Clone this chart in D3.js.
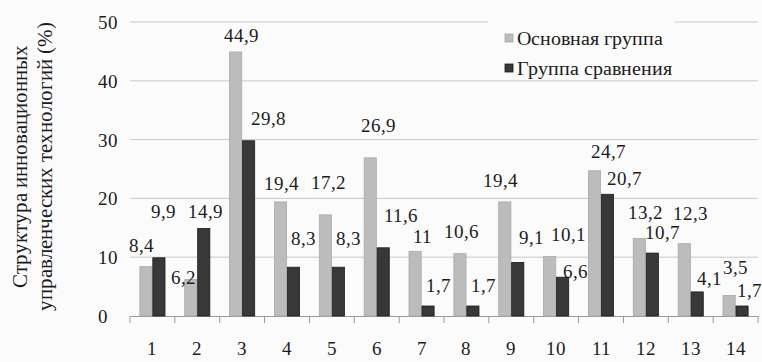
<!DOCTYPE html>
<html>
<head>
<meta charset="utf-8">
<script src="https://cdn.jsdelivr.net/npm/d3@7/dist/d3.min.js"></script>
<style>
  @font-face { font-family: "ChartSerif"; src: local("Liberation Serif"), local("LiberationSerif"), local("Tinos"); }
  svg text { font-family: "ChartSerif", "Liberation Serif", serif !important; }
</style>
</head>
<body style="margin:0;background:#fbfbfb">
<svg id="chart" width="762" height="362" style="display:block"></svg>
<script>
// Categories 1..14 and the two groups' shares (%)
const categories = ["1","2","3","4","5","6","7","8","9","10","11","12","13","14"];
const seriesNames = ["Основная группа", "Группа сравнения"];
const mainGroup = [8.4, 6.2, 44.9, 19.4, 17.2, 26.9, 11, 10.6, 19.4, 10.1, 24.7, 13.2, 12.3, 3.5];
const compGroup = [9.9, 14.9, 29.8, 8.3, 8.3, 11.6, 1.7, 1.7, 9.1, 6.6, 20.7, 10.7, 4.1, 1.7];
const yTicks = [0, 10, 20, 30, 40, 50];
const yTitle = ["Структура инновационных", "управленческих технологий (%)"];

// Hand-placed value labels: [dx, dy] of the label centre from the bar's top-centre
const mainLabelNudge = [[-4,-22],[-7,-3],[6,-17],[1,-19],[3,-33],[8,-33],[7,-15],[2,-23],[-4,-22],[19,-23],[14,-20],[6,-26],[6,-31],[6,-28]];
const compLabelNudge = [[5,-47],[2,-17],[20,-23],[10,-29],[10,-29],[18,-33],[10,-21],[11,-21],[14,-25],[13,-6],[17,-16],[10,-21],[12,-14],[7,-16]];

const FONT = "Liberation Serif";
const INK = "#1c1c1c";
const colors = ["#bcbcbc", "#383838"];
const strokes = ["#a9a9a9", "#1b1b1b"];

const svg = d3.select("#chart").attr("font-family", FONT);
const margin = { left: 130, right: 4, top: 22, bottom: 46 };
const W = 762, H = 362;
const plotBottom = H - margin.bottom;

const x = d3.scaleBand().domain(categories).range([margin.left, W - margin.right]).padding(0);
const groupW = x.bandwidth() * 0.56;
const x1 = d3.scaleBand().domain(seriesNames).range([0, groupW]).paddingInner(0.06);
const y = d3.scaleLinear().domain([0, 50]).range([plotBottom, margin.top]);

const label = sel => sel.attr("font-family", FONT).attr("fill", INK);

// gridlines
svg.append("g").selectAll("line").data(yTicks.filter(t => t > 0)).join("line")
  .attr("x1", margin.left).attr("x2", W - margin.right)
  .attr("y1", d => y(d)).attr("y2", d => y(d))
  .attr("stroke", "#c9c9c9").attr("stroke-width", 1);

// y tick labels
svg.append("g").selectAll("text").data(yTicks).join("text")
  .attr("x", 98).attr("y", d => y(d) + 7)
  .attr("font-size", 19)
  .call(label)
  .text(d => d);

// x axis baseline with tick marks between categories
const xAxis = d3.axisBottom(x).tickSize(0).tickPadding(26);
const gx = svg.append("g").attr("transform", `translate(0,${plotBottom})`).call(xAxis);
gx.attr("font-family", FONT);
gx.select(".domain").attr("stroke", "#9a9a9a");
gx.selectAll(".tick text").attr("font-size", 19).call(label);
const bounds = categories.map(c => x(c)).concat([x(categories[categories.length - 1]) + x.bandwidth()]);
svg.append("g").selectAll("line").data(bounds).join("line")
  .attr("x1", d => d).attr("x2", d => d)
  .attr("y1", plotBottom).attr("y2", plotBottom + 7)
  .attr("stroke", "#9a9a9a");

// bars and their value labels
const seriesValues = [mainGroup, compGroup];
const nudges = [mainLabelNudge, compLabelNudge];
const fmt = v => String(v).replace(".", ",");

seriesValues.forEach((vals, si) => {
  const name = seriesNames[si];
  const barX = (i) => x(categories[i]) + (x.bandwidth() - groupW) / 2 + x1(name);
  svg.append("g").selectAll("rect").data(vals).join("rect")
    .attr("x", (d, i) => barX(i))
    .attr("y", d => y(d))
    .attr("width", x1.bandwidth())
    .attr("height", d => plotBottom - y(d))
    .attr("fill", colors[si])
    .attr("stroke", strokes[si]).attr("stroke-width", 0.8);

  svg.append("g").selectAll("text").data(vals).join("text")
    .attr("x", (d, i) => barX(i) + x1.bandwidth() / 2 + nudges[si][i][0])
    .attr("y", (d, i) => y(d) + nudges[si][i][1] + 7)
    .attr("text-anchor", "middle")
    .attr("font-size", 19)
    .call(label)
    .text(d => fmt(d));
});

// legend
const lg = svg.append("g");
lg.append("rect").attr("x", 488).attr("y", 13).attr("width", 187).attr("height", 62).attr("fill", "#fbfbfb");
seriesNames.forEach((n, i) => {
  const cy = 38 + i * 30;
  lg.append("rect").attr("x", 505).attr("y", cy - 4).attr("width", 8).attr("height", 8)
    .attr("fill", colors[i]).attr("stroke", strokes[i]).attr("stroke-width", 0.8);
  lg.append("text").attr("x", 517).attr("y", cy + 7)
    .attr("font-size", 20).call(label).text(n);
});

// y axis title (two rotated lines)
const yt = svg.append("text")
  .attr("transform", "translate(0,166) rotate(-90)")
  .attr("text-anchor", "middle")
  .attr("font-size", 21)
  .call(label);
yt.append("tspan").attr("x", 0).attr("y", 27).text(yTitle[0]);
yt.append("tspan").attr("x", 0).attr("y", 52).text(yTitle[1]);
</script>
</body>
</html>
